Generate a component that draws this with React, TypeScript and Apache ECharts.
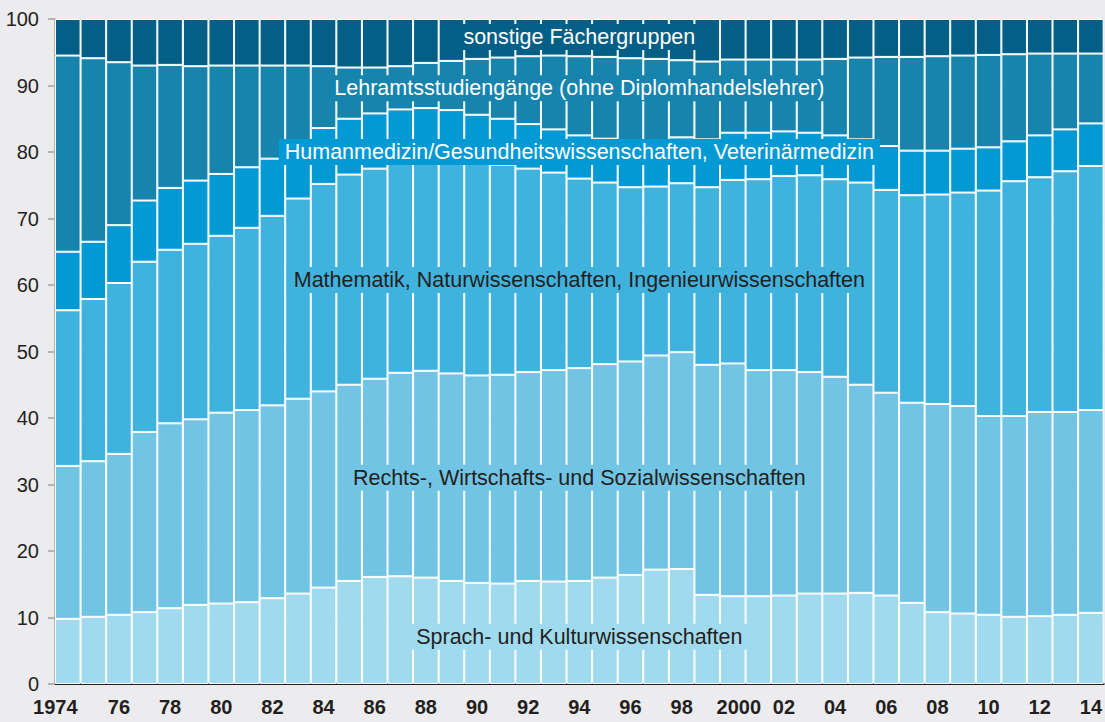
import React, { useEffect, useRef } from "react";
import * as echarts from "echarts";

const years = [
  "1974", "1975", "1976", "1977", "1978", "1979", "1980", "1981", "1982", "1983",
  "1984", "1985", "1986", "1987", "1988", "1989", "1990", "1991", "1992", "1993",
  "1994", "1995", "1996", "1997", "1998", "1999", "2000", "2001", "2002", "2003",
  "2004", "2005", "2006", "2007", "2008", "2009", "2010", "2011", "2012", "2013", "2014",
];

const sprachKultur = [
  9.8, 10.1, 10.4, 10.8, 11.4, 11.9, 12.1, 12.3, 12.9, 13.6,
  14.5, 15.5, 16.1, 16.2, 16.0, 15.5, 15.2, 15.1, 15.5, 15.4,
  15.5, 16.0, 16.4, 17.2, 17.3, 13.4, 13.2, 13.2, 13.3, 13.6,
  13.6, 13.7, 13.3, 12.2, 10.8, 10.6, 10.4, 10.1, 10.2, 10.4, 10.7,
];
const rechtsWiSo = [
  23.0, 23.4, 24.2, 27.1, 27.8, 27.9, 28.7, 28.9, 29.0, 29.3,
  29.5, 29.5, 29.8, 30.6, 31.1, 31.2, 31.2, 31.4, 31.4, 31.8,
  32.0, 32.1, 32.1, 32.2, 32.6, 34.6, 35.0, 34.0, 33.9, 33.3,
  32.6, 31.3, 30.5, 30.1, 31.3, 31.2, 29.9, 30.2, 30.7, 30.5, 30.5,
];
const matheNaturIng = [
  23.4, 24.4, 25.7, 25.6, 26.1, 26.4, 26.6, 27.4, 28.5, 30.1,
  31.2, 31.6, 31.6, 31.6, 31.7, 32.1, 32.0, 31.6, 30.6, 29.7,
  28.5, 27.3, 26.2, 25.4, 25.4, 26.7, 27.6, 28.7, 29.2, 29.6,
  29.7, 30.4, 30.5, 31.2, 31.5, 32.1, 33.9, 35.3, 35.3, 36.2, 36.7,
];
const humanmedizin = [
  8.8, 8.6, 8.7, 9.2, 9.3, 9.5, 9.3, 9.1, 8.6, 8.5,
  8.4, 8.4, 8.3, 8.0, 7.8, 7.5, 7.2, 6.9, 6.7, 6.5,
  6.5, 6.6, 6.7, 6.9, 6.9, 7.2, 7.1, 7.0, 6.7, 6.4,
  6.6, 6.5, 6.6, 6.7, 6.6, 6.6, 6.5, 6.0, 6.3, 6.3, 6.4,
];
const lehramt = [
  29.5, 27.6, 24.5, 20.3, 18.5, 17.2, 16.3, 15.3, 14.0, 11.5,
  9.3, 7.7, 6.9, 6.5, 6.8, 7.4, 8.4, 9.2, 10.2, 11.1,
  11.9, 12.3, 12.7, 12.3, 11.6, 11.7, 11.0, 11.0, 10.8, 11.0,
  11.5, 12.3, 13.4, 14.1, 14.2, 14.0, 13.9, 13.1, 12.3, 11.4, 10.5,
];
const sonstige = [
  5.5, 5.9, 6.5, 7.0, 6.9, 7.1, 7.0, 7.0, 7.0, 7.0,
  7.1, 7.3, 7.3, 7.1, 6.6, 6.3, 6.0, 5.8, 5.6, 5.5,
  5.6, 5.7, 5.9, 6.0, 6.2, 6.4, 6.1, 6.1, 6.1, 6.1,
  6.0, 5.8, 5.7, 5.7, 5.6, 5.5, 5.4, 5.3, 5.2, 5.2, 5.2,
];

const seriesNames = [
  "Sprach- und Kulturwissenschaften",
  "Rechts-, Wirtschafts- und Sozialwissenschaften",
  "Mathematik, Naturwissenschaften, Ingenieurwissenschaften",
  "Humanmedizin/Gesundheitswissenschaften, Veterinärmedizin",
  "Lehramtsstudiengänge (ohne Diplomhandelslehrer)",
  "sonstige Fächergruppen",
];
const seriesData = [sprachKultur, rechtsWiSo, matheNaturIng, humanmedizin, lehramt, sonstige];
const seriesColors = ["#a0daee", "#72c4e4", "#3fb2de", "#0399d4", "#1784ad", "#045f86"];
const labelColors = ["#231f20", "#231f20", "#231f20", "#ffffff", "#ffffff", "#ffffff"];
// label anchor (category index, value) for each series' in-chart name
const labelAnchorIndex = 20;
const labelAnchorValue = [7.1, 31.0, 60.75, 80.0, 89.6, 97.3];

const FONT = '"Liberation Sans", Arial, Helvetica, sans-serif';

export default function App() {
  const ref = useRef<HTMLDivElement>(null);
  useEffect(() => {
    const chart = echarts.init(ref.current!, null, { renderer: "svg", width: 1105, height: 722 });
    chart.setOption({
      animation: false,
      backgroundColor: "#ececee",
      grid: { left: 55, right: 1, top: 19, bottom: 38 },
      xAxis: {
        type: "category",
        data: years,
        axisLine: { show: true, lineStyle: { color: "#231f20", width: 2 } },
        axisTick: { show: false },
        axisLabel: {
          interval: 1,
          margin: 13,
          fontSize: 20,
          fontWeight: "bold",
          fontFamily: FONT,
          color: "#231f20",
          formatter: (v: string) => {
            if (v === "1974") return "{a|1974}";
            if (v === "2000") return "{b|2000}";
            return v.slice(2);
          },
          rich: {
            a: { fontSize: 20, fontWeight: "bold", fontFamily: FONT, color: "#231f20", padding: [0, 25, 0, 0] },
            b: { fontSize: 20, fontWeight: "bold", fontFamily: FONT, color: "#231f20", padding: [0, 0, 0, 12] },
          },
        },
      },
      yAxis: {
        type: "value",
        min: 0,
        max: 100,
        interval: 10,
        axisLine: { show: true, lineStyle: { color: "#b4b4b4", width: 2 } },
        axisTick: { show: true, length: 7, lineStyle: { color: "#b4b4b4", width: 2 } },
        axisLabel: { margin: 16, fontSize: 20, fontFamily: FONT, color: "#231f20" },
        splitLine: { show: true, lineStyle: { color: "#b4b4b4", width: 1 } },
      },
      series: seriesData.map((d, i) => ({
        name: seriesNames[i],
        type: "bar",
        stack: "total",
        data: d,
        barCategoryGap: "0%",
        itemStyle: { color: seriesColors[i], borderColor: "#ffffff", borderWidth: 1 },
      })),
    });
    const graphic = seriesNames.map((name, i) => {
      const [x, y] = chart.convertToPixel({ gridIndex: 0 }, [labelAnchorIndex, labelAnchorValue[i]]);
      return {
        type: "text",
        x,
        y,
        z: 100,
        style: {
          text: name,
          fill: labelColors[i],
          font: `21.5px ${FONT}`,
          align: "center",
          verticalAlign: "middle",
          backgroundColor: seriesColors[i],
          padding: [2, 6],
        },
      };
    });
    chart.setOption({ graphic });
    return () => chart.dispose();
  }, []);
  return (
    <div
      ref={ref}
      style={{ position: "fixed", left: 0, top: 0, width: 1105, height: 722, background: "#ececee" }}
    />
  );
}
